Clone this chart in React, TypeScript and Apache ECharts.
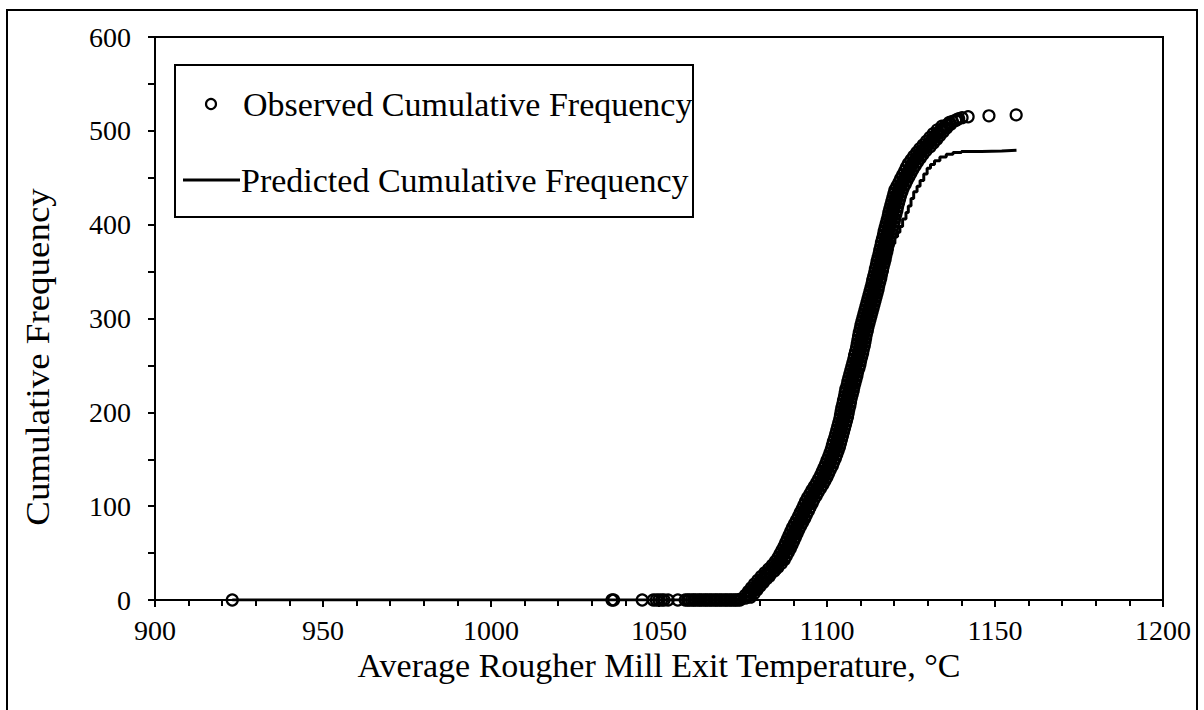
import React, { useEffect, useRef } from "react";
import * as echarts from "echarts";

const FONT = "Liberation Serif";

// Temperatures of observations that sit on the zero line
const baseTemps = [
  923, 1036, 1036.5, 1045, 1048.3, 1049.2, 1050, 1050.8, 1051.5, 1052.7, 1055.6,
  1057.8, 1058.5, 1059.0, 1059.7, 1060.3, 1060.8, 1061.5, 1062.1, 1062.6, 1063.3,
  1063.9, 1064.4, 1065.1, 1065.6, 1066.3, 1066.9, 1067.4, 1068.1, 1068.6, 1069.3,
  1069.9, 1070.4, 1071.1, 1071.6, 1072.3, 1072.8, 1073.4, 1074.1,
];

// Edges of the rising observed band (odd counts): temperature and count
const riseTemps = [
  1074.3, 1077.2, 1075.7, 1078.3, 1076.6, 1079.2, 1077.5, 1080.1, 1078.4, 1081.1,
  1079.4, 1082.1, 1080.4, 1083.1, 1081.5, 1084.3, 1082.6, 1085.4, 1083.7, 1086.4,
  1084.6, 1087.3, 1085.4, 1087.9, 1086.0, 1088.5, 1086.6, 1089.1, 1087.2, 1089.6,
  1087.7, 1090.1, 1088.2, 1090.6, 1088.7, 1091.1, 1089.2, 1091.6, 1089.7, 1092.2,
  1090.3, 1092.8, 1090.9, 1093.4, 1091.5, 1093.9, 1092.0, 1094.5, 1092.6, 1095.0,
  1093.1, 1095.6, 1093.6, 1096.1, 1094.2, 1096.8, 1094.9, 1097.4, 1095.5, 1098.1,
  1096.2, 1098.8, 1096.9, 1099.4, 1097.5, 1100.0, 1098.1, 1100.5, 1098.6, 1101.0,
  1099.1, 1101.6, 1099.6, 1102.0, 1100.0, 1102.5, 1100.5, 1102.9, 1100.9, 1103.3,
  1101.3, 1103.7, 1101.6, 1104.0, 1101.9, 1104.3, 1102.3, 1104.6, 1102.6, 1104.9,
  1102.9, 1105.2, 1103.2, 1105.5, 1103.5, 1105.8, 1103.8, 1106.1, 1104.0, 1106.3,
  1104.2, 1106.5, 1104.4, 1106.8, 1104.7, 1107.0, 1104.9, 1107.2, 1105.2, 1107.5,
  1105.4, 1107.8, 1105.6, 1108.0, 1106.0, 1108.3, 1106.2, 1108.6, 1106.5, 1108.9,
  1106.8, 1109.1, 1107.1, 1109.5, 1107.4, 1109.8, 1107.7, 1110.0, 1108.0, 1110.3,
  1108.2, 1110.6, 1108.5, 1110.8, 1108.8, 1111.1, 1109.0, 1111.3, 1109.2, 1111.5,
  1109.4, 1111.7, 1109.6, 1112.0, 1109.9, 1112.2, 1110.1, 1112.5, 1110.4, 1112.8,
  1110.7, 1113.1, 1111.0, 1113.4, 1111.3, 1113.7, 1111.6, 1114.0, 1111.9, 1114.3,
  1112.2, 1114.6, 1112.5, 1114.9, 1112.8, 1115.2, 1113.1, 1115.4, 1113.4, 1115.7,
  1113.6, 1116.0, 1113.9, 1116.2, 1114.2, 1116.5, 1114.4, 1116.7, 1114.7, 1117.0,
  1114.9, 1117.3, 1115.2, 1117.5, 1115.5, 1117.8, 1115.7, 1118.0, 1116.0, 1118.3,
  1116.2, 1118.6, 1116.5, 1118.8, 1116.8, 1119.1, 1117.0, 1119.4, 1117.3, 1119.7,
  1117.6, 1120.0, 1117.9, 1120.2, 1118.2, 1120.5, 1118.4, 1120.8, 1118.7, 1121.0,
  1119.0, 1121.3, 1119.3, 1121.6, 1119.6, 1121.9, 1119.9, 1122.3, 1120.2, 1122.7,
  1120.8, 1123.3, 1121.4, 1123.8, 1121.9, 1124.4, 1122.5, 1125.0, 1123.1, 1125.6,
  1123.6, 1126.3, 1124.2, 1127.0, 1125.0, 1127.8, 1125.8, 1128.6, 1126.7, 1129.5,
  1127.6, 1130.7, 1128.6, 1131.7, 1129.6, 1132.7, 1130.6, 1133.6, 1131.6, 1134.6,
  1132.8, 1135.6, 1134.2, 1136.8, 1136.4, 1138.3, 1139.2, 1140.2, 1142.0, 1148.2,
  1156.3,
];
const riseFreqs = [
  1, 3, 5, 7, 9, 11, 13, 15, 17, 19,
  21, 23, 25, 27, 29, 31, 33, 35, 37, 39,
  41, 43, 45, 47, 49, 51, 53, 55, 57, 59,
  61, 63, 65, 67, 69, 71, 73, 75, 77, 79,
  81, 83, 85, 87, 89, 91, 93, 95, 97, 99,
  101, 103, 105, 107, 109, 111, 113, 115, 117, 119,
  121, 123, 125, 127, 129, 131, 133, 135, 137, 139,
  141, 143, 145, 147, 149, 151, 153, 155, 157, 159,
  161, 163, 165, 167, 169, 171, 173, 175, 177, 179,
  181, 183, 185, 187, 189, 191, 193, 195, 197, 199,
  201, 203, 205, 207, 209, 211, 213, 215, 217, 219,
  221, 223, 225, 227, 229, 231, 233, 235, 237, 239,
  241, 243, 245, 247, 249, 251, 253, 255, 257, 259,
  261, 263, 265, 267, 269, 271, 273, 275, 277, 279,
  281, 283, 285, 287, 289, 291, 293, 295, 297, 299,
  301, 303, 305, 307, 309, 311, 313, 315, 317, 319,
  321, 323, 325, 327, 329, 331, 333, 335, 337, 339,
  341, 343, 345, 347, 349, 351, 353, 355, 357, 359,
  361, 363, 365, 367, 369, 371, 373, 375, 377, 379,
  381, 383, 385, 387, 389, 391, 393, 395, 397, 399,
  401, 403, 405, 407, 409, 411, 413, 415, 417, 419,
  421, 423, 425, 427, 429, 431, 433, 435, 437, 439,
  441, 443, 445, 447, 449, 451, 453, 455, 457, 459,
  461, 463, 465, 467, 469, 471, 473, 475, 477, 479,
  481, 483, 485, 487, 489, 491, 493, 495, 497, 499,
  501, 503, 505, 507, 509, 511, 513, 514, 515, 516,
  517,
];

// Centre of the rising observed band (even counts): temperature and count
const centreTemps = [
  1075.8, 1076.5, 1077.0, 1077.4, 1077.9, 1078.4, 1078.8, 1079.3, 1079.8, 1080.2,
  1080.8, 1081.2, 1081.8, 1082.3, 1082.9, 1083.5, 1084.0, 1084.6, 1085.0, 1085.5,
  1086.0, 1086.4, 1086.6, 1087.0, 1087.2, 1087.6, 1087.8, 1088.2, 1088.4, 1088.6,
  1088.9, 1089.2, 1089.4, 1089.6, 1089.9, 1090.2, 1090.4, 1090.6, 1091.0, 1091.2,
  1091.6, 1091.8, 1092.2, 1092.4, 1092.7, 1093.0, 1093.2, 1093.6, 1093.8, 1094.0,
  1094.4, 1094.6, 1094.8, 1095.2, 1095.5, 1095.8, 1096.2, 1096.4, 1096.8, 1097.2,
  1097.5, 1097.8, 1098.2, 1098.4, 1098.8, 1099.0, 1099.3, 1099.6, 1099.8, 1100.0,
  1100.4, 1100.6, 1100.8, 1101.0, 1101.2, 1101.5, 1101.7, 1101.9, 1102.1, 1102.3,
  1102.5, 1102.6, 1102.8, 1103.0, 1103.1, 1103.3, 1103.4, 1103.6, 1103.8, 1103.9,
  1104.0, 1104.2, 1104.4, 1104.5, 1104.6, 1104.8, 1105.0, 1105.0, 1105.1, 1105.3,
  1105.4, 1105.4, 1105.6, 1105.8, 1105.8, 1106.0, 1106.0, 1106.2, 1106.4, 1106.4,
  1106.6, 1106.7, 1106.8, 1107.0, 1107.2, 1107.2, 1107.4, 1107.6, 1107.7, 1107.8,
  1108.0, 1108.1, 1108.3, 1108.4, 1108.6, 1108.8, 1108.8, 1109.0, 1109.2, 1109.2,
  1109.4, 1109.6, 1109.6, 1109.8, 1110.0, 1110.0, 1110.2, 1110.2, 1110.4, 1110.4,
  1110.6, 1110.6, 1110.8, 1111.0, 1111.0, 1111.2, 1111.3, 1111.4, 1111.6, 1111.8,
  1111.9, 1112.0, 1112.2, 1112.4, 1112.5, 1112.6, 1112.8, 1113.0, 1113.1, 1113.2,
  1113.4, 1113.6, 1113.7, 1113.8, 1114.0, 1114.2, 1114.2, 1114.4, 1114.6, 1114.6,
  1114.8, 1115.0, 1115.0, 1115.2, 1115.4, 1115.4, 1115.6, 1115.7, 1115.8, 1116.0,
  1116.1, 1116.2, 1116.4, 1116.5, 1116.6, 1116.8, 1116.8, 1117.0, 1117.2, 1117.2,
  1117.4, 1117.6, 1117.6, 1117.8, 1118.0, 1118.0, 1118.2, 1118.4, 1118.5, 1118.6,
  1118.8, 1119.0, 1119.0, 1119.2, 1119.4, 1119.4, 1119.6, 1119.8, 1119.8, 1120.0,
  1120.2, 1120.3, 1120.4, 1120.6, 1120.8, 1120.9, 1121.1, 1121.2, 1121.4, 1121.8,
  1122.0, 1122.4, 1122.6, 1122.8, 1123.2, 1123.4, 1123.8, 1124.0, 1124.4, 1124.6,
  1125.0, 1125.2, 1125.6, 1126.0, 1126.4, 1126.8, 1127.2, 1127.6, 1128.1, 1128.6,
  1129.2, 1129.6, 1130.2, 1130.6, 1131.2, 1131.6, 1132.1, 1132.6, 1133.1, 1133.7,
  1134.2, 1134.9, 1135.5, 1136.6, 1137.3, 1138.7,
];
const centreFreqs = [
  2, 4, 6, 8, 10, 12, 14, 16, 18, 20,
  22, 24, 26, 28, 30, 32, 34, 36, 38, 40,
  42, 44, 46, 48, 50, 52, 54, 56, 58, 60,
  62, 64, 66, 68, 70, 72, 74, 76, 78, 80,
  82, 84, 86, 88, 90, 92, 94, 96, 98, 100,
  102, 104, 106, 108, 110, 112, 114, 116, 118, 120,
  122, 124, 126, 128, 130, 132, 134, 136, 138, 140,
  142, 144, 146, 148, 150, 152, 154, 156, 158, 160,
  162, 164, 166, 168, 170, 172, 174, 176, 178, 180,
  182, 184, 186, 188, 190, 192, 194, 196, 198, 200,
  202, 204, 206, 208, 210, 212, 214, 216, 218, 220,
  222, 224, 226, 228, 230, 232, 234, 236, 238, 240,
  242, 244, 246, 248, 250, 252, 254, 256, 258, 260,
  262, 264, 266, 268, 270, 272, 274, 276, 278, 280,
  282, 284, 286, 288, 290, 292, 294, 296, 298, 300,
  302, 304, 306, 308, 310, 312, 314, 316, 318, 320,
  322, 324, 326, 328, 330, 332, 334, 336, 338, 340,
  342, 344, 346, 348, 350, 352, 354, 356, 358, 360,
  362, 364, 366, 368, 370, 372, 374, 376, 378, 380,
  382, 384, 386, 388, 390, 392, 394, 396, 398, 400,
  402, 404, 406, 408, 410, 412, 414, 416, 418, 420,
  422, 424, 426, 428, 430, 432, 434, 436, 438, 440,
  442, 444, 446, 448, 450, 452, 454, 456, 458, 460,
  462, 464, 466, 468, 470, 472, 474, 476, 478, 480,
  482, 484, 486, 488, 490, 492, 494, 496, 498, 500,
  502, 504, 506, 508, 510, 512,
];

// Predicted cumulative frequency curve
const predTemps = [
  923, 1036, 1050, 1068, 1072, 1074.5, 1076, 1078, 1080, 1082, 1084, 1086, 1088,
  1090, 1092, 1094, 1096, 1098, 1100, 1102, 1103.5, 1105, 1106.5, 1108, 1109.5,
  1111, 1112.5, 1114, 1115.5, 1117, 1118.5, 1119.3, 1120.2, 1121, 1121.7, 1122.5,
  1123.5, 1124.2, 1125, 1125.8, 1126.8, 1127.7, 1128.8, 1129.8, 1130.8, 1132,
  1133.6, 1135.5, 1137.5, 1140, 1146, 1152, 1156.4,
];
const predFreqs = [
  0, 0, 0, 0, 1, 2, 4, 8, 14, 21, 29, 38, 52,
  66, 82, 98, 114, 130, 148, 166, 184, 202, 222, 244, 266,
  288, 308, 326, 344, 360, 372, 380, 387, 392, 398, 406,
  413, 420, 428, 435, 441, 447, 454, 460, 464, 468,
  472, 475, 477, 478, 478.6, 479.3, 480,
];

const observedLabel = "Observed Cumulative Frequency";
const predictedLabel = "Predicted Cumulative Frequency";

export default function App() {
  const ref = useRef<HTMLDivElement>(null);

  useEffect(() => {
    document.body.style.margin = "0";
    if (!ref.current) return;
    const chart = echarts.init(ref.current, null, { renderer: "svg" });

    const observed: number[][] = [
      ...baseTemps.map((t) => [t, 0]),
      ...riseTemps.map((t, i) => [t, riseFreqs[i]]),
      ...centreTemps.map((t, i) => [t, centreFreqs[i]]),
    ];
    const predicted = predTemps.map((t, i) => [t, predFreqs[i]]);

    const axisLine = { show: true, onZero: false, lineStyle: { color: "#000", width: 2 } };
    const tickStyle = { color: "#000", width: 2 };
    const plain = (v: number) => String(v);

    chart.setOption({
      animation: false,
      backgroundColor: "#fff",
      grid: {
        left: 155,
        top: 37,
        width: 1008,
        height: 563,
        show: true,
        borderColor: "#000",
        borderWidth: 2,
      },
      xAxis: {
        type: "value",
        min: 900,
        max: 1200,
        interval: 50,
        axisLine,
        axisTick: { show: true, length: 7, lineStyle: tickStyle },
        minorTick: { show: true, splitNumber: 5, length: 6, lineStyle: tickStyle },
        splitLine: { show: false },
        axisLabel: { color: "#000", fontFamily: FONT, fontSize: 28, margin: 16, formatter: plain },
        name: "Average Rougher Mill Exit Temperature, °C",
        nameLocation: "middle",
        nameGap: 42,
        nameTextStyle: { color: "#000", fontFamily: FONT, fontSize: 34 },
      },
      yAxis: {
        type: "value",
        min: 0,
        max: 600,
        interval: 100,
        axisLine,
        axisTick: { show: true, length: 7, lineStyle: tickStyle },
        minorTick: { show: true, splitNumber: 2, length: 7, lineStyle: tickStyle },
        splitLine: { show: false },
        axisLabel: { color: "#000", fontFamily: FONT, fontSize: 28, margin: 24, formatter: plain },
      },
      graphic: [
        {
          type: "rect",
          shape: { x: 7, y: 10, width: 1190, height: 710 },
          style: { fill: "none", stroke: "#000", lineWidth: 2 },
          silent: true,
        },
        {
          type: "text",
          x: 38,
          y: 357,
          rotation: Math.PI / 2,
          scaleX: 1.12,
          style: {
            text: "Cumulative Frequency",
            fill: "#000",
            font: `33px ${FONT}`,
            align: "center",
            verticalAlign: "middle",
          },
        },
        {
          type: "rect",
          shape: { x: 175, y: 65, width: 518, height: 152 },
          style: { fill: "#fff", stroke: "#000", lineWidth: 2 },
          z: 10,
        },
        {
          type: "circle",
          shape: { cx: 211, cy: 104, r: 5 },
          style: { fill: "none", stroke: "#000", lineWidth: 2.2 },
          z: 11,
        },
        {
          type: "text",
          x: 243,
          y: 104,
          style: {
            text: observedLabel,
            fill: "#000",
            font: `34px ${FONT}`,
            verticalAlign: "middle",
          },
          z: 11,
        },
        {
          type: "line",
          shape: { x1: 183, y1: 180, x2: 240, y2: 180 },
          style: { stroke: "#000", lineWidth: 3 },
          z: 11,
        },
        {
          type: "text",
          x: 241,
          y: 180,
          style: {
            text: predictedLabel,
            fill: "#000",
            font: `34px ${FONT}`,
            verticalAlign: "middle",
          },
          z: 11,
        },
      ],
      series: [
        {
          name: predictedLabel,
          type: "line",
          data: predicted,
          step: "end",
          symbol: "none",
          lineStyle: { color: "#000", width: 3 },
          z: 3,
        },
        {
          name: observedLabel,
          type: "scatter",
          data: observed,
          symbol: "circle",
          symbolSize: 11,
          itemStyle: { color: "transparent", borderColor: "#000", borderWidth: 2.2, opacity: 1 },
          z: 4,
        },
      ],
    });

    return () => chart.dispose();
  }, []);

  return <div ref={ref} style={{ width: 1204, height: 710 }} />;
}
